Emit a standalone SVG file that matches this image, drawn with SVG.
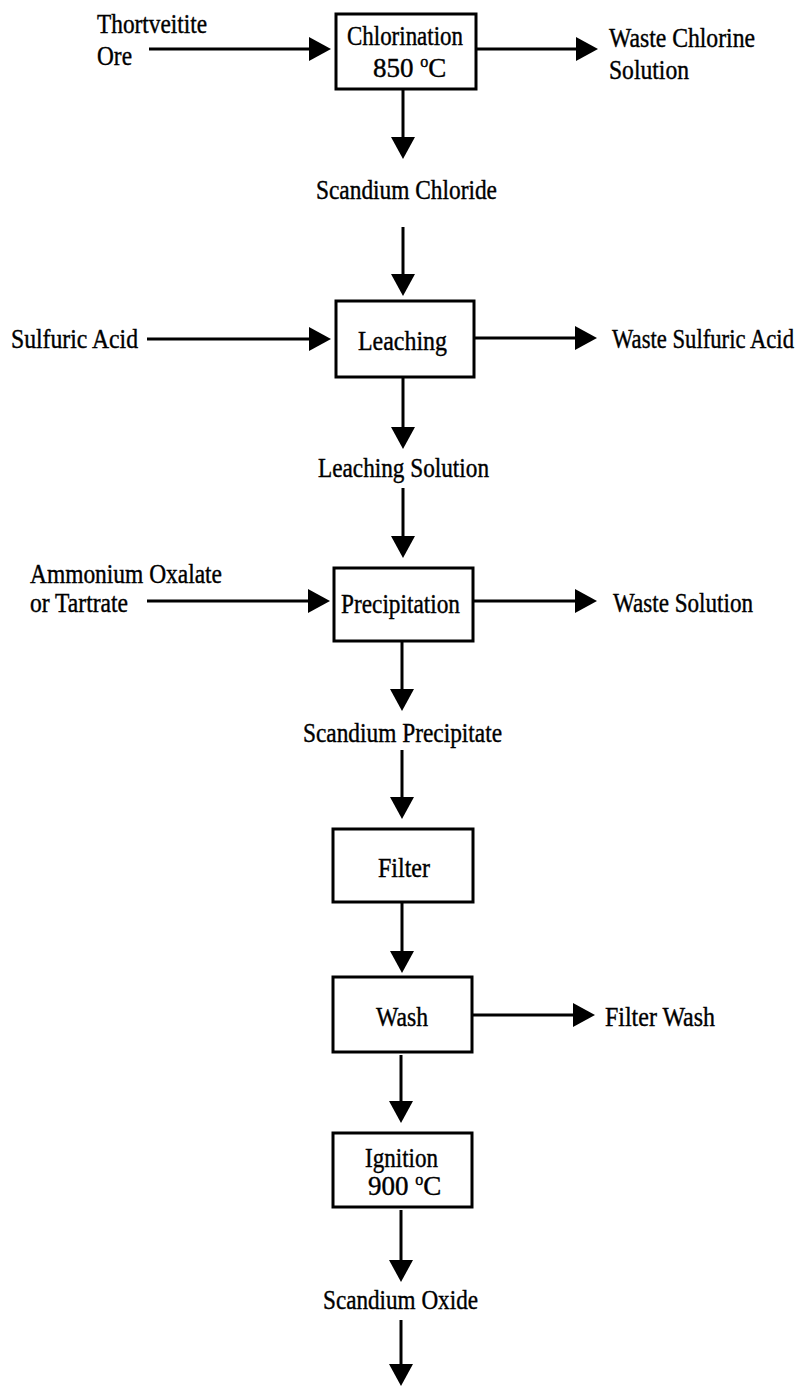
<svg xmlns="http://www.w3.org/2000/svg" width="808" height="1386" viewBox="0 0 808 1386">
  <style>
    .box { fill: #ffffff; stroke: #000000; stroke-width: 3; }
    .flow { fill: none; stroke: #000000; stroke-width: 3; marker-end: url(#head); }
    text { font-family: "Liberation Serif", "Times New Roman", serif; font-size: 27px; fill: #000000; stroke: #000000; stroke-width: 0.4; }
    .sup { font-size: 16px; }
  </style>
  <defs>
    <marker id="head" markerUnits="userSpaceOnUse" markerWidth="22" markerHeight="24" refX="10" refY="12" orient="auto">
      <path d="M0,0 L22,12 L0,24 z" fill="#000000"/>
    </marker>
  </defs>
  <rect width="808" height="1386" fill="#ffffff"/>

  <!-- connectors -->
  <g id="connectors">
    <!-- feeds into the process boxes -->
    <path class="flow" d="M149,49 H319"/>
    <path class="flow" d="M147,339 H319"/>
    <path class="flow" d="M147,601 H318"/>
    <!-- waste streams -->
    <path class="flow" d="M477,49 H586"/>
    <path class="flow" d="M474,338 H585"/>
    <path class="flow" d="M473,601 H585"/>
    <path class="flow" d="M472,1015 H583"/>
    <!-- main downward line -->
    <path class="flow" d="M403,89 V147"/>
    <path class="flow" d="M403,227 V284"/>
    <path class="flow" d="M403,377 V437"/>
    <path class="flow" d="M403,488 V546"/>
    <path class="flow" d="M402,641 V699"/>
    <path class="flow" d="M402,750 V807"/>
    <path class="flow" d="M402,902 V961"/>
    <path class="flow" d="M401,1055 V1111"/>
    <path class="flow" d="M401,1210 V1270"/>
    <path class="flow" d="M401,1320 V1374"/>
  </g>

  <!-- input and output labels -->
  <g id="thortveitite-ore">
    <text x="97" y="33" textLength="110" lengthAdjust="spacingAndGlyphs">Thortveitite</text>
    <text x="97" y="65" textLength="35" lengthAdjust="spacingAndGlyphs">Ore</text>
  </g>
  <g id="waste-chlorine">
    <text x="609" y="47" textLength="146" lengthAdjust="spacingAndGlyphs">Waste Chlorine</text>
    <text x="609" y="79" textLength="80" lengthAdjust="spacingAndGlyphs">Solution</text>
  </g>
  <g id="scandium-chloride">
    <text x="316" y="199" textLength="181" lengthAdjust="spacingAndGlyphs">Scandium Chloride</text>
  </g>
  <g id="sulfuric-acid">
    <text x="11" y="348" textLength="127" lengthAdjust="spacingAndGlyphs">Sulfuric Acid</text>
  </g>
  <g id="waste-sulfuric-acid">
    <!-- condensed horizontally so the label stays inside the right edge -->
    <text transform="translate(612,348) scale(0.84,1)">Waste Sulfuric Acid</text>
  </g>
  <g id="leaching-solution">
    <text x="318" y="477" textLength="171" lengthAdjust="spacingAndGlyphs">Leaching Solution</text>
  </g>
  <g id="ammonium-oxalate">
    <text x="30" y="583" textLength="192" lengthAdjust="spacingAndGlyphs">Ammonium Oxalate</text>
    <text x="30" y="612" textLength="98" lengthAdjust="spacingAndGlyphs">or Tartrate</text>
  </g>
  <g id="waste-solution">
    <text x="613" y="612" textLength="140" lengthAdjust="spacingAndGlyphs">Waste Solution</text>
  </g>
  <g id="scandium-precipitate">
    <text x="303" y="742" textLength="199" lengthAdjust="spacingAndGlyphs">Scandium Precipitate</text>
  </g>
  <g id="filter-wash">
    <text x="605" y="1026" textLength="110" lengthAdjust="spacingAndGlyphs">Filter Wash</text>
  </g>
  <g id="scandium-oxide">
    <text x="323" y="1309" textLength="155" lengthAdjust="spacingAndGlyphs">Scandium Oxide</text>
  </g>

  <!-- process steps -->
  <g id="chlorination">
    <rect class="box" x="336" y="14" width="140" height="75"/>
    <text x="347" y="45" textLength="116" lengthAdjust="spacingAndGlyphs">Chlorination</text>
    <text x="373" y="77">850 <tspan class="sup" dy="-10">o</tspan><tspan dy="10">C</tspan></text>
  </g>
  <g id="leaching">
    <rect class="box" x="336" y="301" width="138" height="76"/>
    <text x="358" y="350" textLength="89" lengthAdjust="spacingAndGlyphs">Leaching</text>
  </g>
  <g id="precipitation">
    <rect class="box" x="334" y="568" width="139" height="73"/>
    <text x="341" y="613" textLength="119" lengthAdjust="spacingAndGlyphs">Precipitation</text>
  </g>
  <g id="filter">
    <rect class="box" x="333" y="829" width="140" height="73"/>
    <text x="378" y="877" textLength="52" lengthAdjust="spacingAndGlyphs">Filter</text>
  </g>
  <g id="wash">
    <rect class="box" x="333" y="977" width="139" height="75"/>
    <text x="376" y="1026" textLength="52" lengthAdjust="spacingAndGlyphs">Wash</text>
  </g>
  <g id="ignition">
    <rect class="box" x="333" y="1133" width="139" height="74"/>
    <text x="365" y="1167" textLength="73" lengthAdjust="spacingAndGlyphs">Ignition</text>
    <text x="368" y="1195">900 <tspan class="sup" dy="-10">o</tspan><tspan dy="10">C</tspan></text>
  </g>
</svg>
